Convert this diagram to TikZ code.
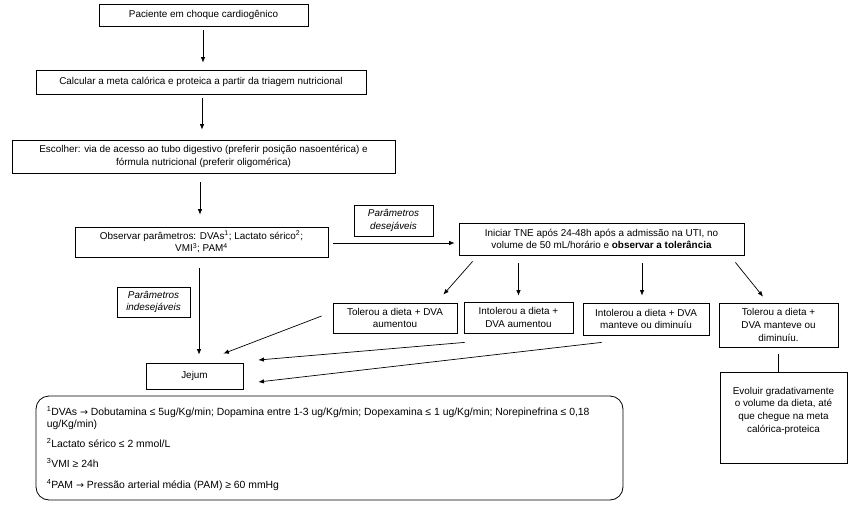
\documentclass[tikz,border=0pt]{standalone}
\usepackage{fontspec}
\setmainfont{Liberation Sans}
\newfontfamily\arrfont{DejaVu Sans}
\usetikzlibrary{arrows.meta}
\newcommand{\fsz}{\fontsize{9.9}{12.6}\selectfont}
\newcommand{\fnsz}{\fontsize{10.4}{12.6}\selectfont}
\newcommand{\rarr}{{\arrfont\fontsize{9.5}{12}\selectfont →}}
\begin{document}
\begin{tikzpicture}[x=1pt,y=-1pt,
  box/.style={draw, line width=0.8pt, inner sep=1pt, align=center, font=\fsz},
  lbl/.style={draw, line width=0.8pt, inner sep=1pt, align=center, font=\fsz\itshape},
  arr/.style={line width=0.7pt, -{Latex[length=5.5pt,width=4.5pt]}},
  ln/.style={line width=0.7pt},
  fn/.style={anchor=base west, inner sep=0pt, font=\fnsz}
]
\useasboundingbox[fill=white] (0,0) rectangle (855,509);

\node[box, minimum width=209pt, minimum height=22pt] (b1) at (203.5,15) {Paciente em choque cardiogênico};
\node[box, minimum width=330pt, minimum height=24pt] (b2) at (201,82) {Calcular a meta calórica e proteica a partir da triagem nutricional};
\node[box, minimum width=383pt, minimum height=33pt] (b3) at (203.5,156.5) {Escolher: via de acesso ao tubo digestivo (preferir posição nasoentérica) e\\fórmula nutricional (preferir oligomérica)};
\node[box, minimum width=253pt, minimum height=30pt] (b4) at (201.5,242) {Observar parâmetros: DVAs\textsuperscript{1}; Lactato sérico\textsuperscript{2};\\VMI\textsuperscript{3}; PAM\textsuperscript{4}};
\node[lbl, minimum width=79pt, minimum height=31pt] (des) at (393.5,220.5) {Parâmetros\\desejáveis};
\node[box, minimum width=285pt, minimum height=32pt] (b5) at (601.5,239) {Iniciar TNE após 24-48h após a admissão na UTI, no\\volume de 50 mL/horário e \textbf{observar a tolerância}};
\node[box, minimum width=124pt, minimum height=30pt] (b6) at (395,318) {Tolerou a dieta + DVA\\aumentou};
\node[box, minimum width=109pt, minimum height=31pt] (b7) at (518.5,317.5) {Intolerou a dieta +\\DVA aumentou};
\node[box, minimum width=126pt, minimum height=32pt] (b8) at (646,319) {Intolerou a dieta + DVA\\manteve ou diminuíu};
\node[box, minimum width=119pt, minimum height=44pt] (b9) at (778.5,325) {Tolerou a dieta +\\DVA manteve ou\\diminuíu.};
\node[box, minimum width=127pt, minimum height=91pt] (b10) at (783.5,417.5) {Evoluir gradativamente\\o volume da dieta, até\\que chegue na meta\\calórica-proteica\\[3pt]};
\node[lbl, minimum width=73pt, minimum height=30pt] (ind) at (153.5,302) {Parâmetros\\indesejáveis};
\node[box, minimum width=97pt, minimum height=26pt] (jej) at (194.5,376) {Jejum};

\node[draw, line width=0.8pt, rounded corners=13pt, minimum width=587pt, minimum height=104pt, inner sep=0pt] (foot) at (329.5,448) {};
\node[fn] (f1) at ([xshift=11pt,yshift=-20pt]foot.north west) {\textsuperscript{1}DVAs \rarr{} Dobutamina ≤ 5ug/Kg/min; Dopamina entre 1-3 ug/Kg/min; Dopexamina ≤ 1 ug/Kg/min; Norepinefrina ≤ 0,18};
\node[fn] (f2) at ([xshift=11pt,yshift=-32pt]foot.north west) {ug/Kg/min)};
\node[fn] (f3) at ([xshift=11pt,yshift=-52pt]foot.north west) {\textsuperscript{2}Lactato sérico ≤ 2 mmol/L};
\node[fn] (f4) at ([xshift=11pt,yshift=-72pt]foot.north west) {\textsuperscript{3}VMI ≥ 24h};
\node[fn] (f5) at ([xshift=11pt,yshift=-93pt]foot.north west) {\textsuperscript{4}PAM \rarr{} Pressão arterial média (PAM) ≥ 60 mmHg};

% vertical main flow
\draw[arr, shorten <=4pt, shorten >=7pt] ([xshift=-0.5pt]b1.south) -- ([xshift=-0.5pt]b1.south |- b2.north);
\draw[arr, shorten <=4pt, shorten >=10pt] ([xshift=1pt]b2.south) -- ([xshift=1pt]b2.south |- b3.north);
\draw[arr, shorten <=9pt, shorten >=12pt] ([xshift=-3.5pt]b3.south) -- ([xshift=-3.5pt]b3.south |- b4.north);
\draw[arr, shorten <=11pt, shorten >=8pt] ([xshift=-2.5pt]b4.south) -- ([xshift=-2.5pt]b4.south |- jej.north);
\draw[arr, shorten <=5pt, shorten >=4pt] ([yshift=-1pt]b4.east) -- ([yshift=-1pt]b4.east -| b5.west);

% from b5
\draw[arr] ([xshift=14pt,yshift=-6pt]b5.south west) -- ([xshift=-14pt,yshift=8pt]b6.north east);
\draw[arr, shorten <=8pt, shorten >=6pt] (b7.north |- b5.south) -- (b7.north);
\draw[arr, shorten <=8pt, shorten >=7pt] ([xshift=-4pt]b8.north |- b5.south) -- ([xshift=-4pt]b8.north);
\draw[arr] ([xshift=-9pt,yshift=-7pt]b5.south east) -- ([xshift=-15.5pt,yshift=6pt]b9.north);
\draw[ln, shorten <=7pt] (b9.south) -- (b9.south |- b10.north);

% to Jejum
\draw[arr] ([xshift=-11pt,yshift=2pt]b6.west) -- ([xshift=-20pt,yshift=9pt]jej.north east);
\draw[arr] ([xshift=1pt,yshift=-9pt]b7.south west) -- ([xshift=15pt,yshift=16pt]jej.east);
\draw[arr] ([xshift=19pt,yshift=-7pt]b8.south west) -- ([xshift=15pt,yshift=-6pt]jej.east);
\end{tikzpicture}
\end{document}
